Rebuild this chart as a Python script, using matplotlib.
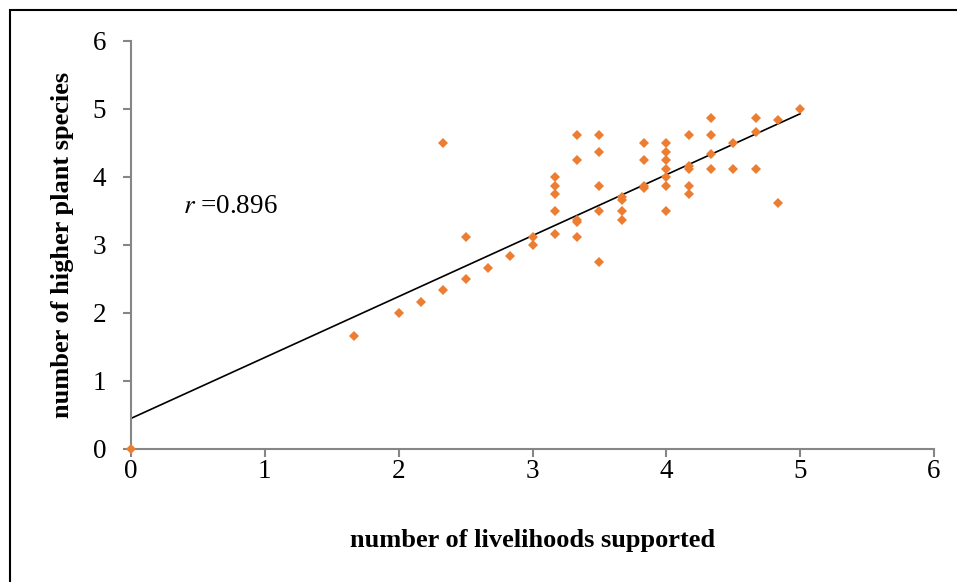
import numpy as np
import matplotlib.pyplot as plt
from matplotlib.patches import Rectangle

# livelihoods supported (x) vs higher plant species (y)
livelihoods = [0, 5/3, 2, 13/6, 7/3, 7/3, 2.5, 2.5, 8/3, 17/6, 3, 3,
               19/6, 19/6, 19/6, 19/6, 19/6,
               10/3, 10/3, 10/3, 10/3, 10/3,
               3.5, 3.5, 3.5, 3.5, 3.5,
               11/3, 11/3, 11/3, 11/3,
               23/6, 23/6, 23/6, 23/6,
               4, 4, 4, 4, 4, 4, 4,
               25/6, 25/6, 25/6, 25/6, 25/6,
               13/3, 13/3, 13/3, 13/3,
               4.5, 4.5,
               14/3, 14/3, 14/3,
               29/6, 29/6, 5]
species = [0, 5/3, 2, 13/6, 7/3, 4.5, 2.5, 3.125, 8/3, 17/6, 3, 3.125,
           4.0, 3.875, 3.75, 3.5, 19/6,
           4.625, 4.25, 10/3, 3.375, 3.125,
           4.625, 4.375, 3.875, 3.5, 2.75,
           11/3, 3.71, 3.5, 3.375,
           4.5, 4.25, 3.875, 23/6,
           4.5, 4.375, 4.25, 4.125, 4.0, 3.875, 3.5,
           4.625, 25/6, 4.125, 3.875, 3.75,
           4.875, 4.625, 13/3, 4.125,
           4.5, 4.125,
           4.875, 14/3, 4.125,
           29/6, 3.625, 5]
# trend line as drawn in the original (intercept, slope)
trend_intercept = 0.45
trend_slope = 0.896
r_text = "0.896"

plt.rcParams["mathtext.fontset"] = "stix"
serif = ["Liberation Serif", "DejaVu Serif"]
grey = "#868686"

x = np.array(livelihoods)
y = np.array(species)

fig = plt.figure(figsize=(9.57, 5.82), dpi=100)
ax = fig.add_axes([131 / 957, 1 - 449 / 582, 803 / 957, 408 / 582])

xs = np.array([x.min(), x.max()])
ax.plot(xs, trend_intercept + trend_slope * xs, color="black", lw=1.2, zorder=2)
ax.plot(x, y, linestyle="none", marker="D", ms=5.3, color="#ED7D31",
        markeredgewidth=0, zorder=3, clip_on=False)

ax.set_xlim(0, 6)
ax.set_ylim(0, 6)
ax.set_xticks(range(7))
ax.set_yticks(range(7))
for s in ["top", "right"]:
    ax.spines[s].set_visible(False)
for s in ["left", "bottom"]:
    ax.spines[s].set_color(grey)
    ax.spines[s].set_linewidth(1.5)
ax.tick_params(axis="both", direction="out", length=6, width=1.5, color=grey,
               labelsize=19.5)
ax.tick_params(axis="y", pad=12)
ax.tick_params(axis="x", pad=1.5)
for lab in ax.get_xticklabels() + ax.get_yticklabels():
    lab.set_family(serif)

ax.set_xlabel("number of livelihoods supported", family=serif, fontsize=19,
              fontweight="bold", labelpad=32)
ax.set_ylabel("number of higher plant species", family=serif, fontsize=19,
              fontweight="bold", labelpad=13)

ax.text(0.39, 3.56, r"$r$ =" + r_text, family=serif, fontsize=19.5,
        va="center", ha="left")

# outer frame of the original figure
fig.patches.append(Rectangle((10 / 957, -0.1), 1.1, 1 - 10 / 582 + 0.1,
                             transform=fig.transFigure, fill=False,
                             edgecolor="black", lw=1.5))

fig.savefig("out.png", dpi=100)
